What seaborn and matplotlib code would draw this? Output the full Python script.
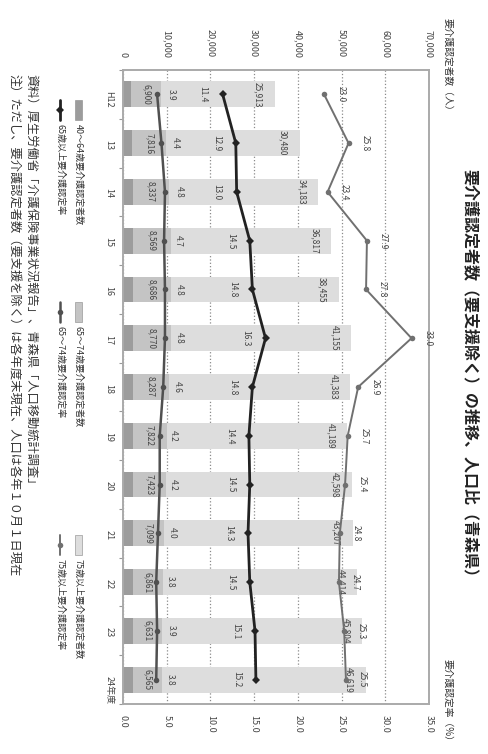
"""
要介護認定者数の推移（青森県） - rotated chart
"""
import numpy as np
import pandas as pd
import matplotlib
matplotlib.use('Agg')
import matplotlib.pyplot as plt
from matplotlib.lines import Line2D
from matplotlib.patches import Rectangle
import seaborn as sns

years = ['H12', '13', '14', '15', '16', '17', '18', '19', '20', '21', '22', '23', '24年度']
cnt_40_64 = [1900, 2100, 2200, 2300, 2300, 2300, 2300, 2300, 2300, 2300, 2300, 2300, 2300]
cnt_65_74 = [6900, 7816, 8337, 8569, 8686, 8770, 8287, 7822, 7423, 7099, 6861, 6631, 6565]
cnt_75 = [25913, 30480, 34183, 36817, 38455, 41155, 41383, 41189, 42598, 43207, 44414, 45804, 46619]
rate_65_74 = [3.9, 4.4, 4.8, 4.7, 4.8, 4.8, 4.6, 4.2, 4.2, 4.0, 3.8, 3.9, 3.8]
rate_65 = [11.4, 12.9, 13.0, 14.5, 14.8, 16.3, 14.8, 14.4, 14.5, 14.3, 14.5, 15.1, 15.2]
rate_75 = [23.0, 25.8, 23.4, 27.9, 27.8, 33.0, 26.9, 25.7, 25.4, 24.8, 24.7, 25.3, 25.5]

count_ticks = list(range(0, 70001, 10000))
rate_ticks = [0.0, 5.0, 10.0, 15.0, 20.0, 25.0, 30.0, 35.0]

W, H = 488, 754


def fx(px):
    return px / W


def fy(py):
    return 1 - py / H


sns.set_theme(style='white')
plt.rcParams['font.family'] = ['Noto Sans CJK JP', 'DejaVu Sans']

df = pd.DataFrame({'pos': np.arange(len(years)), 'c1': cnt_40_64,
                   'c2': cnt_65_74, 'c3': cnt_75})
df['s2'] = df.c1 + df.c2
df['tot'] = df.s2 + df.c3

col_dark, col_mid, col_light = '#9c9c9c', '#c4c4c4', '#dddddd'
txt = '#444444'

fig = plt.figure(figsize=(W / 100, H / 100), dpi=100)
ax = fig.add_axes([fx(123), fy(704), fx(429) - fx(123), fy(70) - fy(704)])
ax2 = ax.twiny()  # rate scale, shares the year axis

# stacked bars: draw totals first, then the inner parts on top
for col, c in [('tot', col_light), ('s2', col_mid), ('c1', col_dark)]:
    sns.barplot(data=df, x=col, y='pos', orient='h', native_scale=True,
                color=c, width=0.53, saturation=1, linewidth=0,
                errorbar=None, ax=ax)

for i in range(len(years)):
    ax.annotate(f'{cnt_65_74[i]:,}', xy=(cnt_40_64[i] + cnt_65_74[i] / 2, i),
                rotation=-90, ha='center', va='center', fontsize=6, color=txt)
    ax.annotate(f'{cnt_75[i]:,}', xy=(df.tot[i], i), xytext=(-12, 0),
                textcoords='offset points', rotation=-90, ha='center',
                va='center', fontsize=6, color=txt)

# rate lines on the twin axis (bottom scale)
sns.lineplot(x=rate_75, y=df.pos, orient='y', color='#707070', linewidth=1.4,
             marker='o', markersize=4, markeredgewidth=0, ax=ax2)
sns.lineplot(x=rate_65, y=df.pos, orient='y', color='#222222', linewidth=2.0,
             marker='D', markersize=4, markeredgewidth=0, ax=ax2)
sns.lineplot(x=rate_65_74, y=df.pos, orient='y', color='#505050', linewidth=1.8,
             marker='o', markersize=4, markeredgewidth=0, ax=ax2)

for i in range(len(years)):
    ax2.annotate(f'{rate_65_74[i]:.1f}', xy=(rate_65_74[i], i), xytext=(10, 0),
                 textcoords='offset points', rotation=-90, ha='center',
                 va='center', fontsize=6, color=txt)
    ax2.annotate(f'{rate_65[i]:.1f}', xy=(rate_65[i], i), xytext=(-14, 0),
                 textcoords='offset points', rotation=-90, ha='center',
                 va='center', fontsize=6, color=txt)
    ax2.annotate(f'{rate_75[i]:.1f}', xy=(rate_75[i], i), xytext=(12, 0),
                 textcoords='offset points', rotation=-90, ha='center',
                 va='center', fontsize=6, color=txt)

# count scale on top
ax.set_xlim(0, 70000)
ax.set_xticks(count_ticks)
ax.set_xticklabels([f'{v:,}' for v in count_ticks])
ax.xaxis.tick_top()
ax.tick_params(axis='x', top=True, bottom=False, labeltop=True, labelbottom=False,
               labelrotation=-90, labelsize=6.5, length=0, pad=9, labelcolor=txt)
ax.grid(axis='x', linestyle=':', color='#8a8a8a', linewidth=0.9)
ax.grid(axis='y', visible=False)
ax.set_axisbelow(True)
ax.set_xlabel('')
ax.set_ylabel('')

# rate scale at the bottom
ax2.set_xlim(0, 35)
ax2.set_xticks(rate_ticks)
ax2.set_xticklabels([f'{v:.1f}' for v in rate_ticks])
ax2.xaxis.tick_bottom()
ax2.tick_params(axis='x', top=False, bottom=True, labeltop=False, labelbottom=True,
                labelrotation=-90, labelsize=6.5, length=0, pad=8, labelcolor=txt)
ax2.set_xlabel('')
ax2.set_ylabel('')
for s in ax2.spines.values():
    s.set_visible(False)

# year axis
ax.set_yticks(range(len(years)))
ax.set_yticklabels(years)
ax.set_yticks(np.arange(-0.5, len(years), 1), minor=True)
ax.tick_params(axis='y', which='major', left=True, length=0, labelrotation=-90,
               labelsize=6.5, pad=7, labelcolor=txt)
ax.tick_params(axis='y', which='minor', left=True, length=3, width=0.8,
               color='#999999', direction='out')
ax.set_ylim(len(years) - 0.5, -0.5)
for s in ax.spines.values():
    s.set_color('#aaaaaa')
    s.set_linewidth(1.4)

# titles and axis captions
fig.text(fx(470), fy(377), '要介護認定者数（要支援除く）の推移、人口比（青森県）',
         rotation=-90, ha='center', va='center', fontsize=11.5,
         fontweight='bold', color='#222222')
fig.text(fx(448), fy(18), '要介護認定者数（人）', rotation=-90, ha='center',
         va='top', fontsize=7, color='#333333')
fig.text(fx(448), fy(746), '要介護認定率（%）', rotation=-90, ha='center',
         va='bottom', fontsize=7, color='#333333')

# source notes
fig.text(fx(31), fy(74), '資料）厚生労働省「介護保険事業状況報告」、青森県「人口移動統計調査」',
         rotation=-90, ha='center', va='top', fontsize=8.8, color='#333333')
fig.text(fx(14), fy(74), '注）ただし、要介護認定者数（要支援を除く）は各年度末現在、人口は各年１０月１日現在',
         rotation=-90, ha='center', va='top', fontsize=8.8, color='#333333')

# hand-made legend (rotated)
bar_items = [(col_dark, '40～64歳要介護認定者数', 100),
             (col_mid, '65～74歳要介護認定者数', 302),
             (col_light, '75歳以上要介護認定者数', 535)]
line_items = [('#222222', 'D', 2.0, '65歳以上要介護認定率', 100),
              ('#505050', 'o', 1.8, '65～74歳要介護認定率', 302),
              ('#707070', 'o', 1.4, '75歳以上要介護認定率', 535)]
for c, label, y0 in bar_items:
    fig.add_artist(Rectangle((fx(75), fy(y0 + 20)), fx(7), 20 / H,
                             transform=fig.transFigure, facecolor=c,
                             edgecolor='#888888', linewidth=0.4))
    fig.text(fx(78.5), fy(y0 + 24), label, rotation=-90, ha='center', va='top',
             fontsize=6.5, color='#333333')
for c, m, lw, label, y0 in line_items:
    fig.add_artist(Line2D([fx(60), fx(60)], [fy(y0), fy(y0 + 20)],
                          transform=fig.transFigure, color=c, linewidth=lw))
    fig.add_artist(Line2D([fx(60)], [fy(y0 + 10)], transform=fig.transFigure,
                          color=c, marker=m, markersize=4, markeredgewidth=0))
    fig.text(fx(60), fy(y0 + 24), label, rotation=-90, ha='center', va='top',
             fontsize=6.5, color='#333333')

fig.savefig('out.png', dpi=100)
